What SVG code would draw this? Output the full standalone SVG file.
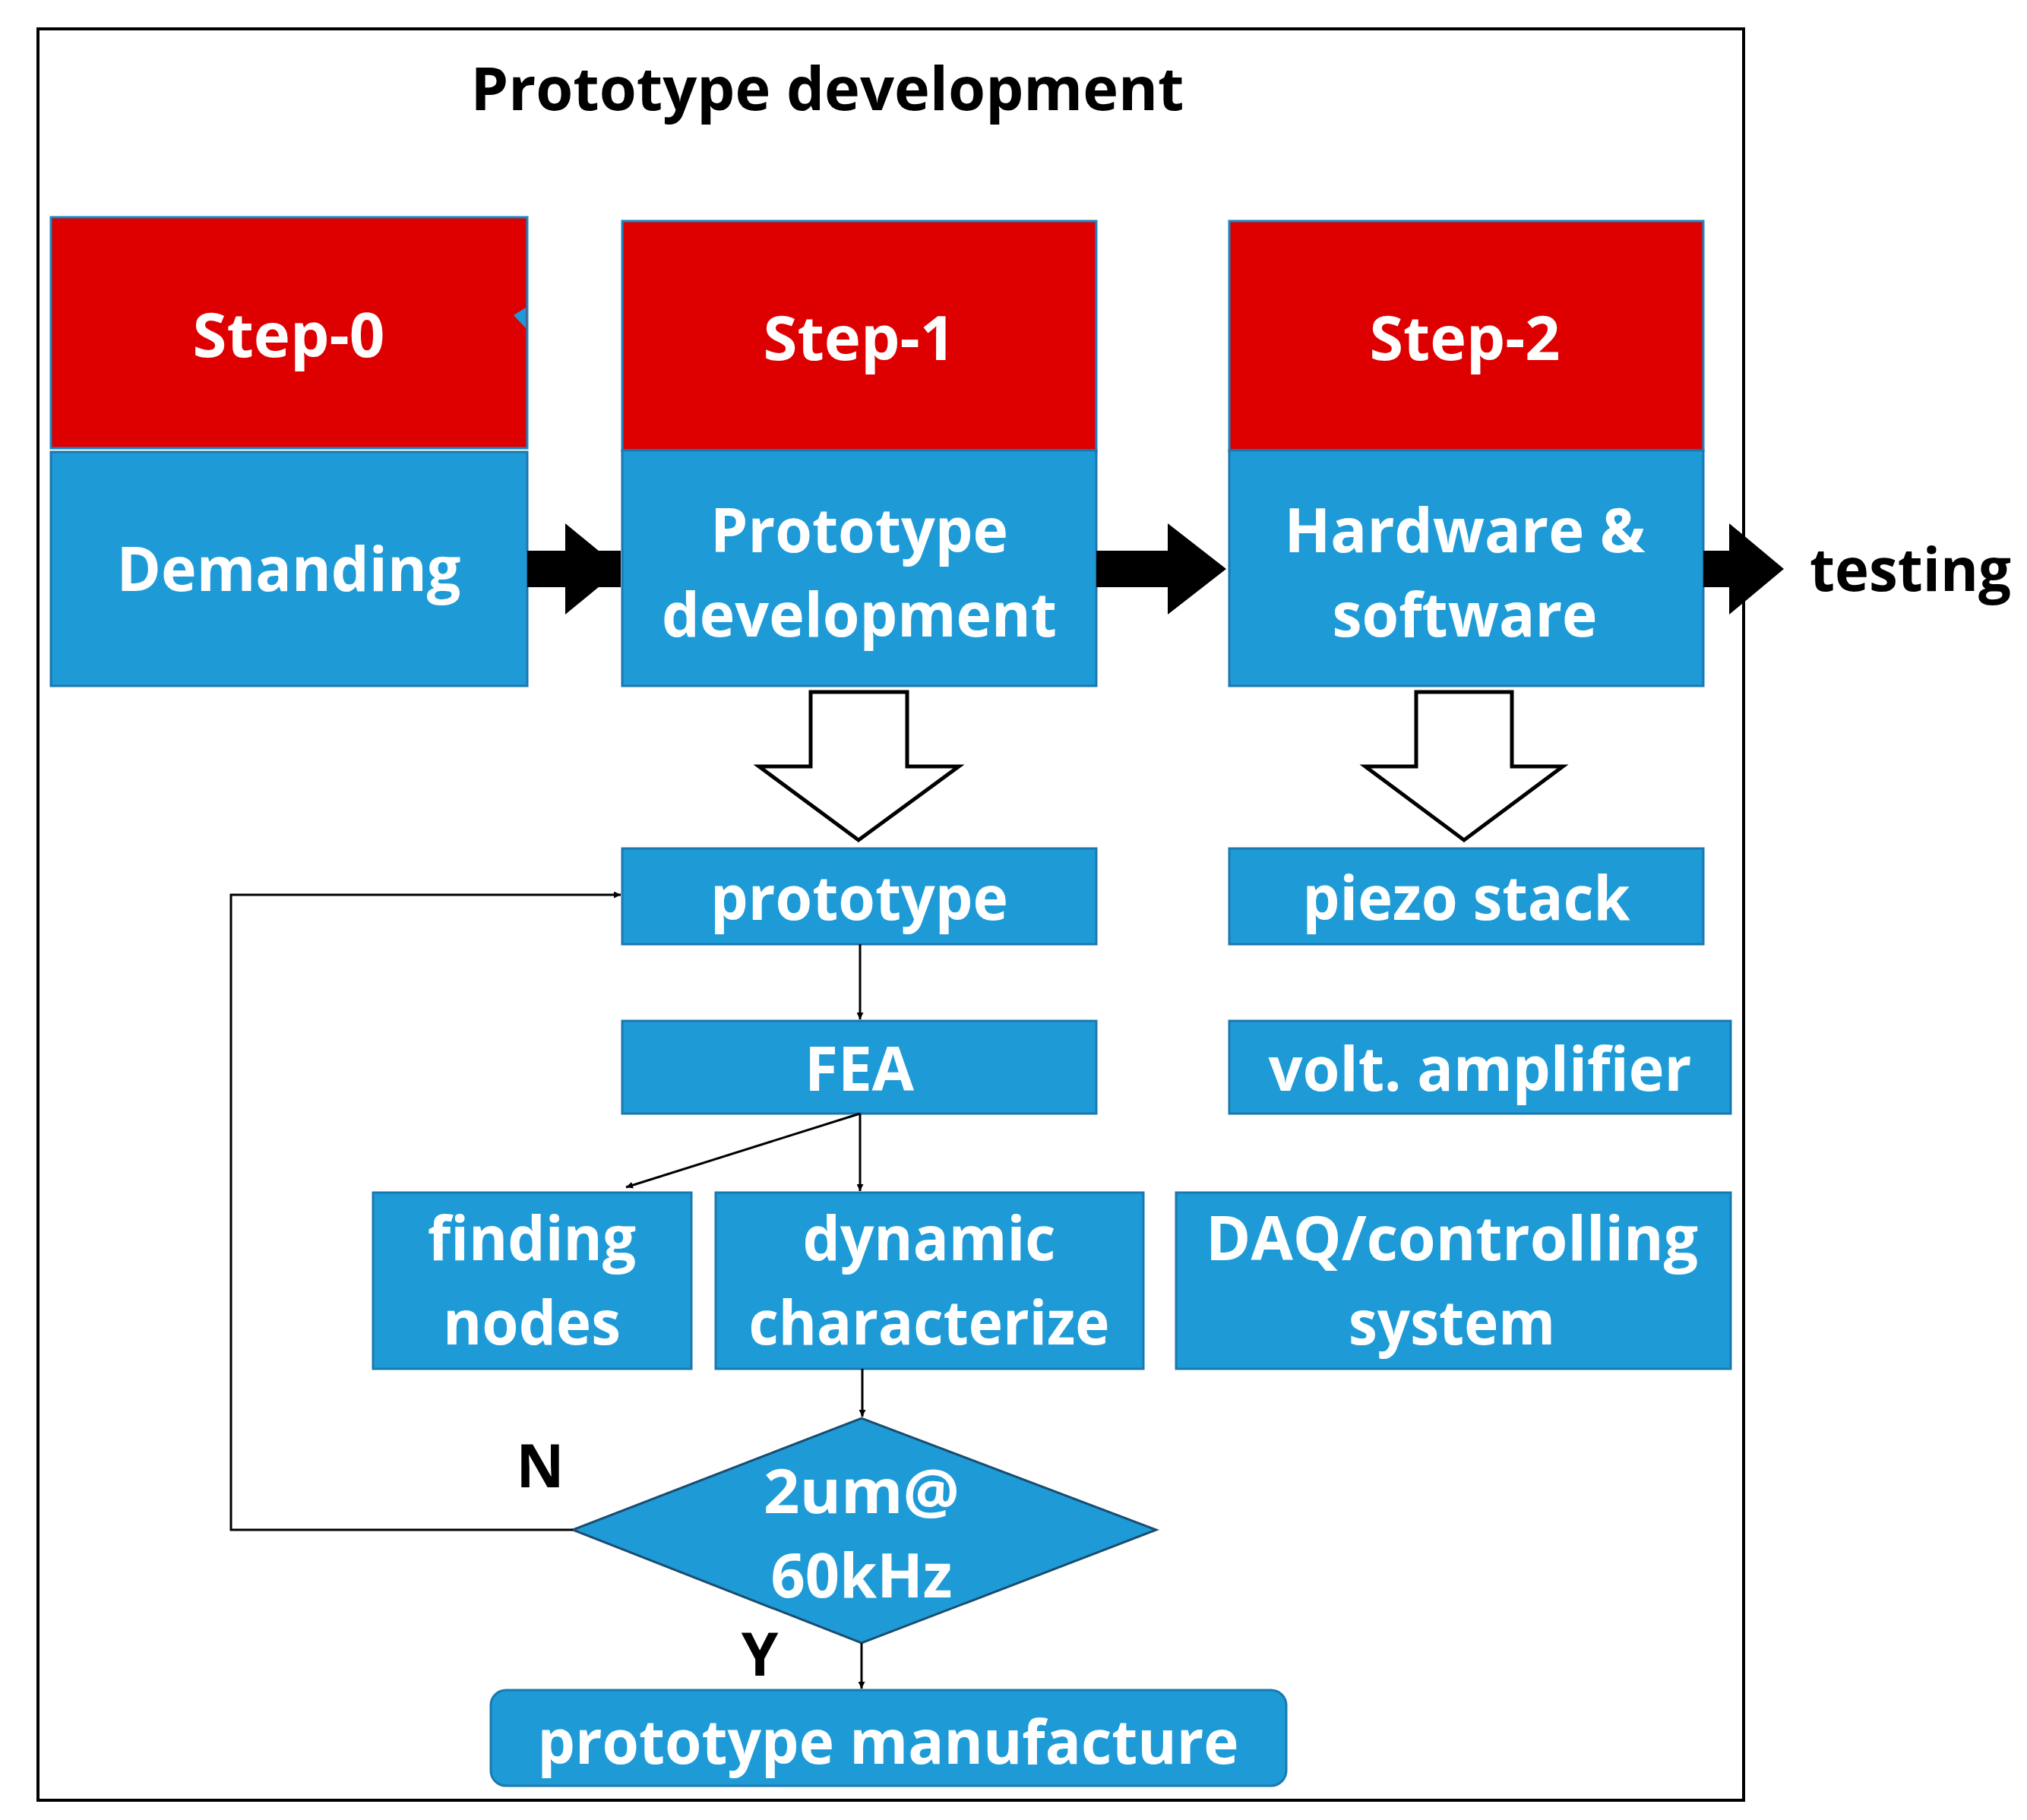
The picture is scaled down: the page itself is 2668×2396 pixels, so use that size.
<svg xmlns="http://www.w3.org/2000/svg" width="2668" height="2396" viewBox="0 0 2668 2396">
<style>
.r{fill:#de0000;stroke:#1b86c4;stroke-width:3}
.b{fill:#1e9bd7;stroke:#1a78b0;stroke-width:3}
.t{font-family:"Open Sans","Liberation Sans",sans-serif;font-weight:bold;font-size:80px;fill:#fff;text-anchor:middle}
.k{font-family:"Open Sans","Liberation Sans",sans-serif;font-weight:bold;font-size:78px;fill:#000}
.c{fill:none;stroke:#000;stroke-width:3}
</style>
<defs>
<marker id="ah" viewBox="0 0 10 10" refX="10" refY="5" markerWidth="9" markerHeight="9" markerUnits="userSpaceOnUse" orient="auto"><path d="M0,0L10,5L0,10z" fill="#000"/></marker>
<marker id="ah2" viewBox="0 0 10 10" refX="10" refY="5" markerWidth="30" markerHeight="30" markerUnits="userSpaceOnUse" orient="auto"><path d="M0,0L10,5L0,10z" fill="#000"/></marker>
</defs>
<rect width="2668" height="2396" fill="#fff"/>
<rect x="50" y="38" width="2245" height="2332" fill="none" stroke="#000" stroke-width="4"/>
<text class="k" x="1089" y="145" text-anchor="middle" textLength="939" lengthAdjust="spacingAndGlyphs">Prototype development</text>

<g id="step0">
<rect class="r" x="67" y="286" width="627" height="304"/>
<polygon points="676,415 692,405 692,432" fill="#1e9bd7"/>
<text class="t" x="380" y="470" textLength="253" lengthAdjust="spacingAndGlyphs">Step-0</text>
<rect class="b" x="67" y="595" width="627" height="308"/>
<text class="t" x="380" y="778" textLength="453" lengthAdjust="spacingAndGlyphs">Demanding</text>
</g>
<g id="step1">
<rect class="r" x="819" y="291" width="624" height="302"/>
<text class="t" x="1131" y="474" textLength="253" lengthAdjust="spacingAndGlyphs">Step-1</text>
<rect class="b" x="819" y="593" width="624" height="310"/>
<text class="t" x="1131" y="727" textLength="392" lengthAdjust="spacingAndGlyphs">Prototype</text>
<text class="t" x="1131" y="838" textLength="520" lengthAdjust="spacingAndGlyphs">development</text>
</g>
<g id="step2">
<rect class="r" x="1618" y="291" width="624" height="302"/>
<text class="t" x="1928" y="474" textLength="251" lengthAdjust="spacingAndGlyphs">Step-2</text>
<rect class="b" x="1618" y="593" width="624" height="310"/>
<text class="t" x="1928" y="727" textLength="475" lengthAdjust="spacingAndGlyphs">Hardware &amp;</text>
<text class="t" x="1928" y="838" textLength="349" lengthAdjust="spacingAndGlyphs">software</text>
</g>
<text id="testing" class="k" x="2382" y="778" textLength="265" lengthAdjust="spacingAndGlyphs">testing</text>

<g id="prototype"><rect class="b" x="819" y="1117" width="624" height="126"/>
<text class="t" x="1131" y="1211" textLength="392" lengthAdjust="spacingAndGlyphs">prototype</text></g>
<g id="piezo"><rect class="b" x="1618" y="1117" width="624" height="126"/>
<text class="t" x="1930" y="1211" textLength="431" lengthAdjust="spacingAndGlyphs">piezo stack</text></g>
<g id="fea"><rect class="b" x="819" y="1344" width="624" height="122"/>
<text class="t" x="1131" y="1436" textLength="144" lengthAdjust="spacingAndGlyphs">FEA</text></g>
<g id="volt"><rect class="b" x="1618" y="1344" width="660" height="122"/>
<text class="t" x="1948" y="1436" textLength="557" lengthAdjust="spacingAndGlyphs">volt. amplifier</text></g>
<g id="finding"><rect class="b" x="491" y="1570" width="419" height="232"/>
<text class="t" x="700" y="1659" textLength="274" lengthAdjust="spacingAndGlyphs">finding</text>
<text class="t" x="700" y="1770" textLength="234" lengthAdjust="spacingAndGlyphs">nodes</text></g>
<g id="dynamic"><rect class="b" x="942" y="1570" width="563" height="232"/>
<text class="t" x="1223" y="1659" textLength="333" lengthAdjust="spacingAndGlyphs">dynamic</text>
<text class="t" x="1223" y="1770" textLength="475" lengthAdjust="spacingAndGlyphs">characterize</text></g>
<g id="daq"><rect class="b" x="1548" y="1570" width="730" height="232"/>
<text class="t" x="1911" y="1659" textLength="648" lengthAdjust="spacingAndGlyphs">DAQ/controlling</text>
<text class="t" x="1911" y="1770" textLength="272" lengthAdjust="spacingAndGlyphs">system</text></g>
<g id="decision"><polygon points="754,2014 1134,1867 1522,2014 1134,2163" fill="#1e9bd7" stroke="#1a4d70" stroke-width="3"/>
<text class="t" x="1134" y="1992" textLength="258" lengthAdjust="spacingAndGlyphs">2um@</text>
<text class="t" x="1134" y="2103" textLength="239" lengthAdjust="spacingAndGlyphs">60kHz</text></g>
<g id="manufacture"><rect class="b" x="646" y="2225" width="1047" height="126" rx="20"/>
<text class="t" x="1169" y="2322" textLength="923" lengthAdjust="spacingAndGlyphs">prototype manufacture</text></g>
<text class="k" x="711" y="1958" text-anchor="middle" font-size="70">N</text>
<text class="k" x="1000" y="2206" text-anchor="middle" font-size="70">Y</text>

<g id="connectors">
<line x1="694" y1="749" x2="817" y2="749" stroke="#000" stroke-width="48" marker-end="url(#ah2)"/>
<path d="M694,725H744V689L817,749L744,809V773H694Z" fill="#000"/>
<path d="M1443,725H1537V689L1614,749L1537,809V773H1443Z" fill="#000"/>
<path d="M2242,725H2276V689L2348,749L2276,809V773H2242Z" fill="#000"/>
<path d="M1067,911H1194V1009H1262L1130,1106L999,1009H1067Z" fill="#fff" stroke="#000" stroke-width="5"/>
<path d="M1864,911H1990V1009H2057L1927,1106L1797,1009H1864Z" fill="#fff" stroke="#000" stroke-width="5"/>
<line class="c" x1="1132" y1="1243" x2="1132" y2="1342" marker-end="url(#ah)" style="marker-end:url(#ah)"/>
<line class="c" x1="1132" y1="1466" x2="1132" y2="1568" marker-end="url(#ah)"/>
<line class="c" x1="1132" y1="1466" x2="824" y2="1563" marker-end="url(#ah)"/>
<line class="c" x1="1135" y1="1802" x2="1135" y2="1865" marker-end="url(#ah)"/>
<line class="c" x1="1134" y1="2163" x2="1134" y2="2223" marker-end="url(#ah)"/>
<path class="c" d="M754,2014H304V1178H817" marker-end="url(#ah)"/>
</g>
</svg>
